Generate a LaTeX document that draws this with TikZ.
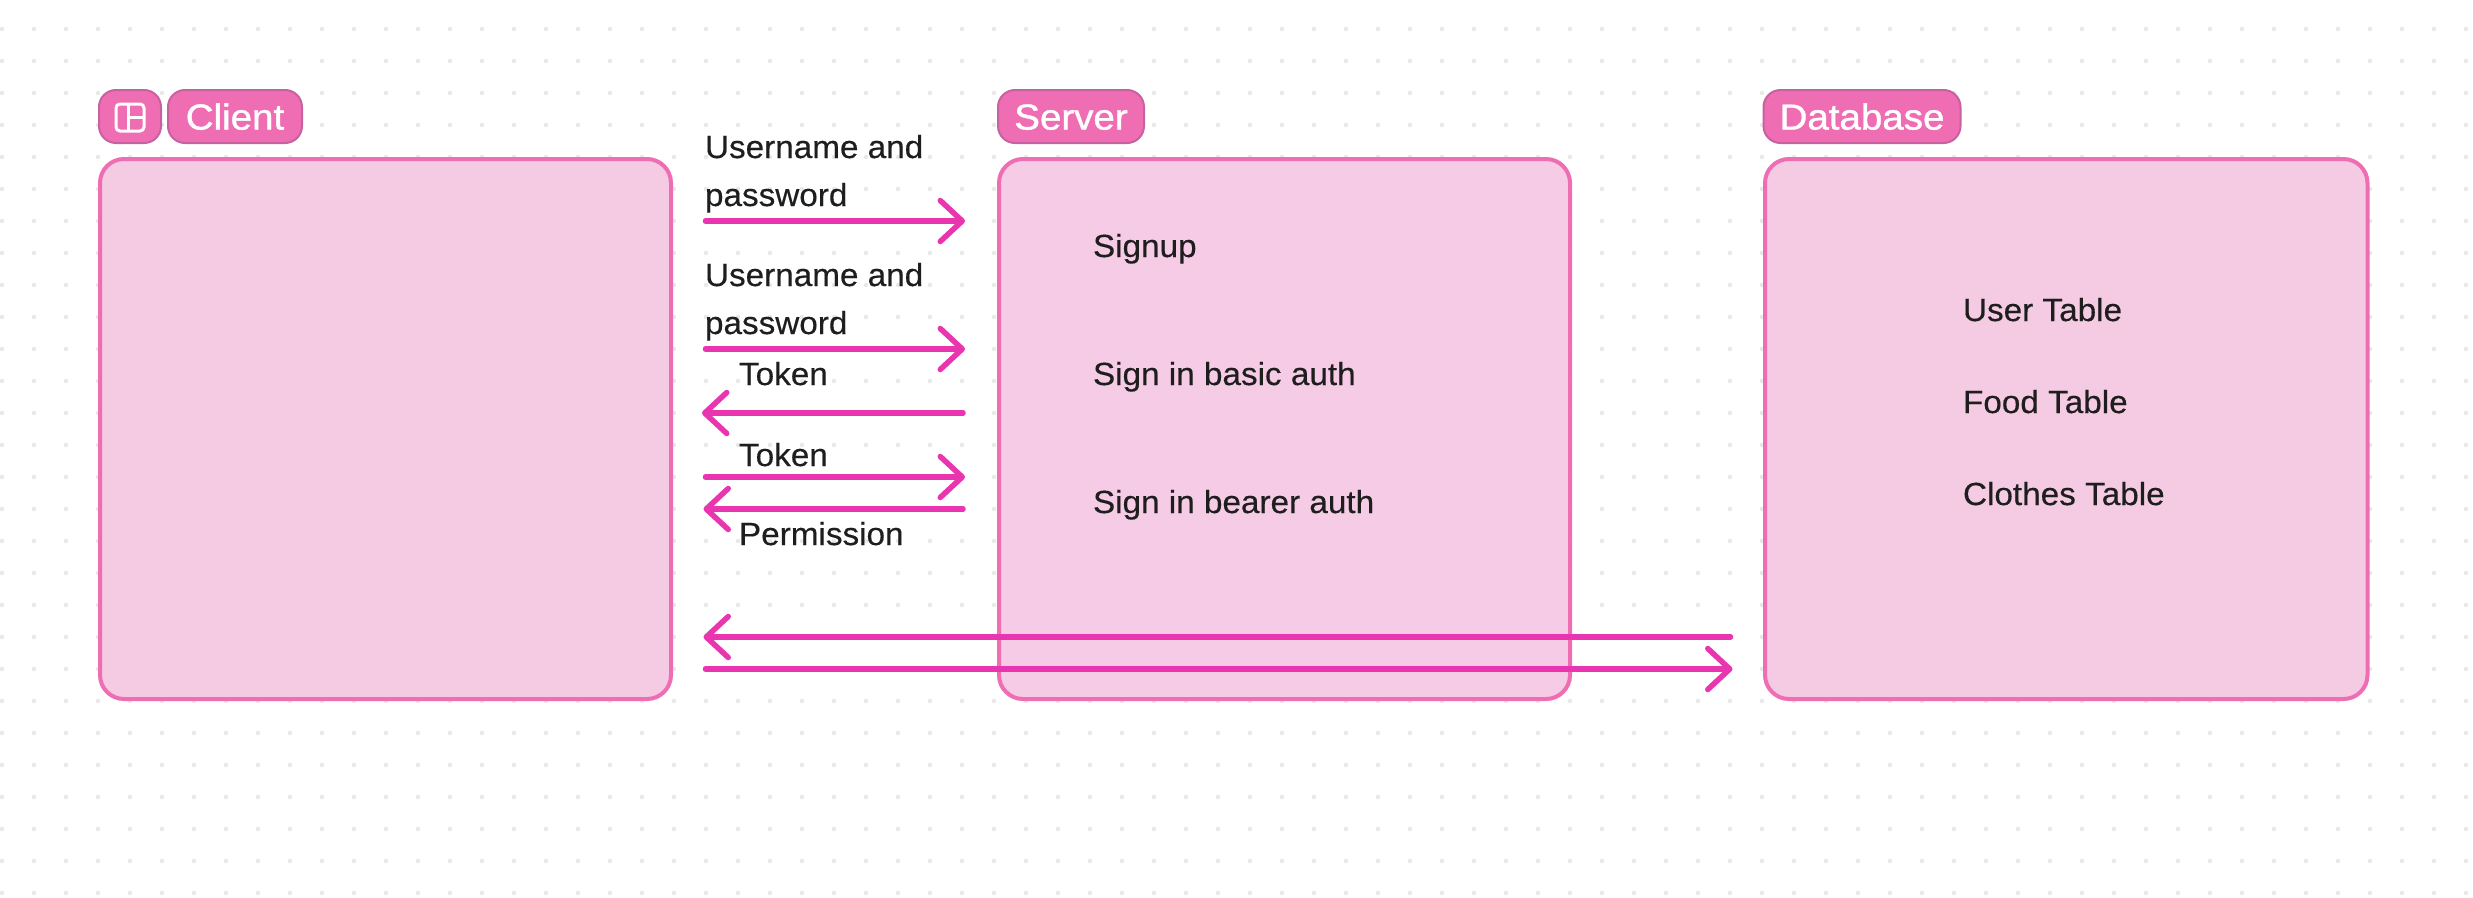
\documentclass[tikz,border=0pt]{standalone}
\usepackage{fontspec}
\setmainfont[FakeStretch=1.04,FakeBold=0.35]{Liberation Sans}
\newfontfamily\tagfont[FakeStretch=1.07,FakeBold=1.2]{Liberation Sans}
\usetikzlibrary{arrows.meta}
\definecolor{boxfill}{HTML}{F4CBE3}
\definecolor{srvfill}{HTML}{F6CBE5}
\definecolor{boxline}{HTML}{EF6DB3}
\definecolor{tagline}{HTML}{C8619F}
\definecolor{arrowcol}{HTML}{E935B0}
\definecolor{inkcol}{HTML}{1E1E1E}
\definecolor{dotcol}{HTML}{E8E8E8}
\tikzset{
  panel/.style={draw=boxline,fill=boxfill,line width=4pt,rounded corners=24pt,inner sep=0pt,outer sep=0pt},
  tag/.style={draw=tagline,fill=boxline,line width=2pt,rounded corners=17pt,inner sep=0pt,outer sep=0pt,
    minimum height=53pt,text=white,text height=26pt,text depth=0pt,font=\tagfont\fontsize{36}{36}\selectfont},
  lbl/.style={anchor=base west,inner sep=0pt,outer sep=0pt,text=inkcol,font=\fontsize{32}{48}\selectfont},
  flow/.style={draw=arrowcol,line width=5.5pt,line cap=round,
    -{Straight Barb[length=22pt,width=41pt,line width=5.5pt,round]}},
}
\begin{document}
\begin{tikzpicture}[x=1pt,y=-1pt]
\useasboundingbox (0,0) rectangle (2473,897);
\fill[white] (0,0) rectangle (2473,897);
\foreach \i in {0,...,77}{\foreach \j in {0,...,27}{
  \fill[dotcol] ({2+32*\i},{29+32*\j}) circle[radius=2.2pt];
}}
% panels
\node[panel,minimum width=571pt,minimum height=540pt,anchor=north west] (client) at (100,159) {};
\node[panel,fill=srvfill,minimum width=571pt,minimum height=540pt,anchor=north west] (server) at (999,159) {};
\node[panel,minimum width=602.5pt,minimum height=540pt,anchor=north west] (database) at (1765,159) {};
% tags
\node[tag,minimum width=62pt] (icontag) at (130,116.5) {};
\draw[white,line width=3pt,rounded corners=4pt] (116,104) rectangle (144,131);
\draw[white,line width=3pt] (128,104) -- (128,131) (128,117) -- (144,117);
\node[tag,minimum width=134pt] (clienttag) at (235,116.5) {Client};
\node[tag,minimum width=146pt] (servertag) at (1071,116.5) {Server};
\node[tag,minimum width=197pt] (databasetag) at (1862,116.5) {Database};
% labels
\node[lbl] (u1a) at (705,158) {Username and};
\node[lbl] (u1b) at (705,206) {password};
\node[lbl] (u2a) at (705,286) {Username and};
\node[lbl] (u2b) at (705,334) {password};
\node[lbl] (t1) at (739,385) {Token};
\node[lbl] (t2) at (739,466) {Token};
\node[lbl] (perm) at (739,545) {Permission};
\node[lbl] (signup) at (1093,257) {Signup};
\node[lbl] (basic) at (1093,385) {Sign in basic auth};
\node[lbl] (bearer) at (1093,513) {Sign in bearer auth};
\node[lbl] (user) at (1963,321) {User Table};
\node[lbl] (food) at (1963,413) {Food Table};
\node[lbl] (clothes) at (1963,505) {Clothes Table};
% arrow ends
\coordinate (a1s) at (705.5,221); \coordinate (a1e) at (965,221);
\coordinate (a2s) at (705.5,349); \coordinate (a2e) at (965,349);
\coordinate (a3s) at (963,413);   \coordinate (a3e) at (702,413);
\coordinate (a4s) at (705.5,477); \coordinate (a4e) at (965,477);
\coordinate (a5s) at (963,509);   \coordinate (a5e) at (703.5,509);
\coordinate (a6s) at (1730.5,637);\coordinate (a6e) at (703.5,637);
\coordinate (a7s) at (705.5,669); \coordinate (a7e) at (1732.5,669);
\foreach \n in {1,...,7}{\draw[flow] (a\n s) -- (a\n e);}
\end{tikzpicture}
\end{document}
